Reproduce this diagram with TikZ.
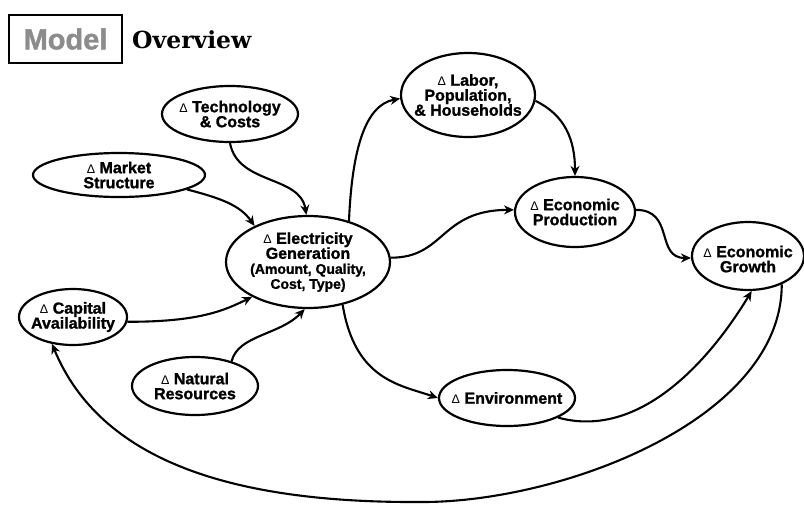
\documentclass[tikz,border=0pt]{standalone}
\usepackage{fontspec}
\setmainfont{Liberation Sans}[BoldFeatures={FakeBold=1.3}]
\newfontfamily\ttlserif{DejaVu Serif}
\usetikzlibrary{shapes.geometric,arrows.meta}
\newcommand\dlt{{\mdseries\fontsize{12.5}{12}\selectfont Δ} }
\newcommand\smallpar{\fontsize{14}{14}\selectfont}
\begin{document}
\begin{tikzpicture}[x=1pt,y=-1pt,
  ell/.style={draw, ellipse, line width=2.2pt, inner sep=0pt},
  lbl/.style={align=center, font=\bfseries\fontsize{16}{15}\selectfont, inner sep=0pt},
  conn/.style={line width=2.1pt, -{Stealth[length=10pt,width=9pt]}}]
\useasboundingbox (0,0) rectangle (804,504);

% title
\node[draw, line width=2.4pt, minimum width=113pt, minimum height=48pt, inner sep=0pt] (tbox) at (65.5,39) {};
\node[font=\bfseries\fontsize{29}{29}\selectfont, text=black!45, inner sep=0pt] (tmodel) at (tbox.center) {Model};
\node[font=\ttlserif\bfseries\fontsize{23.5}{23}\selectfont, anchor=base west, inner sep=0pt] (tover) at (132,48) {Overview};

% ellipses
\node[ell, minimum width=136pt, minimum height=56pt] (tech) at (230,114) {};
\node[ell, minimum width=172pt, minimum height=44pt] (market) at (119,175) {};
\node[ell, minimum width=108pt, minimum height=56pt] (capital) at (73,317) {};
\node[ell, minimum width=126pt, minimum height=58pt] (natural) at (195,386) {};
\node[ell, minimum width=164pt, minimum height=92pt] (elec) at (308,262) {};
\node[ell, minimum width=134pt, minimum height=84pt] (labor) at (468,95) {};
\node[ell, minimum width=120pt, minimum height=70pt] (prod) at (575,212) {};
\node[ell, minimum width=112pt, minimum height=68pt] (growth) at (748,256) {};
\node[ell, minimum width=136pt, minimum height=56pt] (env) at (507,398) {};

% labels
\node[lbl] (techT) at (tech.center) {\dlt Technology\\\& Costs};
\node[lbl] (marketT) at (market.center) {\dlt Market\\Structure};
\node[lbl] (capitalT) at (capital.center) {\dlt Capital\\Availability};
\node[lbl] (naturalT) at (natural.center) {\dlt Natural\\Resources};
\node[lbl] (elecT) at (elec.center) {\dlt Electricity\\Generation\\\smallpar (Amount, Quality,\\\smallpar Cost, Type)};
\node[lbl] (laborT) at (labor.center) {\dlt Labor,\\Population,\\\& Households};
\node[lbl] (prodT) at (prod.center) {\dlt Economic\\Production};
\node[lbl] (growthT) at ([yshift=-3pt]growth.center) {\dlt Economic\\Growth};
\node[lbl] (envT) at (env.center) {\dlt Environment};

% connectors
\draw[conn] (tech.south) .. controls (238,185) and (300,175) .. (elec.92);
\draw[conn] (market.-12) .. controls (220,198) and (240,205) .. (elec.146);
\draw[conn] (capital.-5) .. controls (200,322) and (225,310) .. (elec.212);
\draw[conn] (natural.34) .. controls (238,335) and (280,335) .. (elec.-94);
\draw[conn] (elec.45) .. controls (352,150) and (365,105) .. (labor.183);
\draw[conn] (elec.3) .. controls (445,258) and (440,210) .. (prod.178);
\draw[conn] (elec.-51) .. controls (355,380) and (400,385) .. (env.west);
\draw[conn] (labor.-5) .. controls (565,115) and (575,140) .. (prod.north);
\draw[conn] (prod.2) .. controls (675,210) and (655,258) .. (growth.182);
\draw[conn] (env.-21) .. controls (640,440) and (710,360) .. (growth.-84);
\draw[conn] (growth.-40) .. controls (782,420) and (560,503) .. (420,502)
  .. controls (230,503) and (100,460) .. (capital.232);
\end{tikzpicture}
\end{document}
